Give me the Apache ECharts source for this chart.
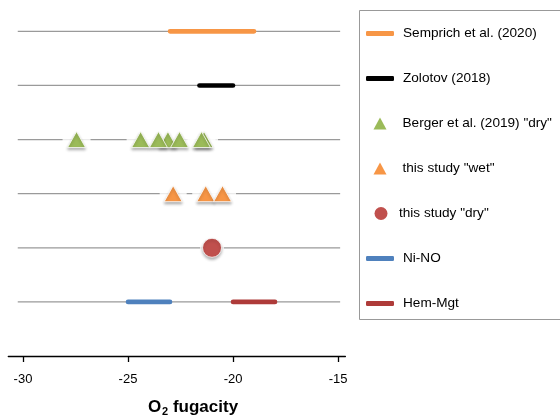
<!DOCTYPE html>
<html>
<head>
<meta charset="utf-8">
<script src="https://cdn.jsdelivr.net/npm/echarts@6/dist/echarts.min.js"></script>
<style>
  html, body { margin: 0; padding: 0; background: #fff; }
  #chart { width: 560px; height: 419px; }
</style>
</head>
<body>
<div id="chart"></div>
<script>
// O2 fugacity estimates by source; each source sits on its own row (6 = top row).
const xTicks = [-30, -25, -20, -15];
const guideSpan = [-30.25, -14.9];       // extent of the grey row guides
const rowLevels = [6, 5, 4, 3, 2, 1];

const sempRange = [-23, -19];            // Semprich et al. (2020)
const zolotovRange = [-21.6, -20];       // Zolotov (2018)
const bergerDry = [-23.1, -21.38, -27.45, -24.4, -23.55, -22.55, -21.5]; // Berger et al. (2019) "dry"
const studyWet = [-22.85, -21.3, -20.5]; // this study "wet"
const studyDry = [-21.0];                // this study "dry"
const niNoRange = [-25, -23];            // Ni-NO buffer
const hemMgtRange = [-20, -18];          // Hem-Mgt buffer

const names = ['Semprich et al. (2020)', 'Zolotov (2018)', 'Berger et al. (2019) "dry"',
  'this study "wet"', 'this study "dry"', 'Ni-NO', 'Hem-Mgt'];

const FONT = 'Liberation Sans';
const colors = {
  semp: '#F79646', zol: '#000000', berger: '#9BBB59', wet: '#F79646',
  dry: '#C0504D', nino: '#4F81BD', hem: '#AE3B39'
};

const pts = (vals, row) => vals.map(v => [v, row]);

const series = [];

// grey guide line for every row
rowLevels.forEach(r => {
  series.push({
    type: 'line', silent: true, symbol: 'none', z: 1,
    data: [[guideSpan[0], r], [guideSpan[1], r]],
    lineStyle: { color: '#9a9a9a', width: 1.2 }
  });
});

// white gaps punched into the guides behind the markers
function knockout(vals, row, w) {
  series.push({
    type: 'scatter', silent: true, z: 2, symbol: 'rect', symbolSize: [w, 5],
    data: pts(vals, row), itemStyle: { color: '#ffffff' }
  });
}
knockout(bergerDry, 4, 28);
knockout(studyWet, 3, 27);
knockout(studyDry, 2, 24);

function rangeBar(name, range, row, color) {
  series.push({
    name, type: 'line', symbol: 'none', z: 3,
    data: pts(range, row),
    itemStyle: { color },
    lineStyle: { color, width: 4.6, cap: 'round' }
  });
}

const markerShadow = { shadowColor: 'rgba(0,0,0,0.3)', shadowBlur: 3, shadowOffsetY: 2 };

function markers(name, vals, row, color, symbol, size) {
  series.push({
    name, type: 'scatter', z: 4, symbol, symbolSize: size,
    data: pts(vals, row),
    itemStyle: Object.assign({ color, borderColor: '#ffffff', borderWidth: 0.8, opacity: 1 }, markerShadow)
  });
}

rangeBar(names[0], sempRange, 6, colors.semp);
rangeBar(names[1], zolotovRange, 5, colors.zol);
markers(names[2], bergerDry, 4, colors.berger, 'triangle', [18, 16]);
markers(names[3], studyWet, 3, colors.wet, 'triangle', [18, 16]);
markers(names[4], studyDry, 2, colors.dry, 'circle', 19);
rangeBar(names[5], niNoRange, 1, colors.nino);
rangeBar(names[6], hemMgtRange, 1, colors.hem);

// one legend block per entry, stacked down the right-hand box
const legendStyle = [
  { icon: 'roundRect', left: 366, w: 28, h: 5, pad: 4 },
  { icon: 'roundRect', left: 366, w: 28, h: 5, pad: 4 },
  { icon: 'triangle', left: 373.5, w: 13, h: 12, pad: 11 },
  { icon: 'triangle', left: 373.5, w: 13, h: 12, pad: 11 },
  { icon: 'circle', left: 374.5, w: 13, h: 13, pad: 6.5 },
  { icon: 'roundRect', left: 366, w: 28, h: 5, pad: 4 },
  { icon: 'roundRect', left: 366, w: 28, h: 5, pad: 4 }
];
const LINE_H = 16;
const legends = names.map((n, i) => {
  const s = legendStyle[i];
  const cy = 33.5 + 45 * i;
  return {
    data: [{ name: n, icon: s.icon, itemStyle: { borderWidth: 0, shadowBlur: 0, shadowOffsetY: 0 } }],
    left: s.left, top: cy - LINE_H / 2, padding: 0,
    itemWidth: s.w, itemHeight: s.h,
    selectedMode: false,
    textStyle: { fontFamily: FONT, fontSize: 13.6, lineHeight: LINE_H, color: '#000', padding: [0, 0, 0, s.pad] }
  };
});

const chart = echarts.init(document.getElementById('chart'), null, { renderer: 'canvas' });
chart.setOption({
  animation: false,
  backgroundColor: '#ffffff',
  grid: { left: 8.3, right: 214.6, top: 4.3, bottom: 63 },
  xAxis: {
    type: 'value', min: -30.7, max: -14.65,
    splitLine: { show: false },
    axisLine: { show: true, lineStyle: { color: '#000', width: 1.3 } },
    axisTick: { show: true, length: 6, inside: false, customValues: xTicks, lineStyle: { color: '#000', width: 1.3 } },
    axisLabel: { customValues: xTicks, margin: 17, fontFamily: FONT, fontSize: 13, color: '#000' }
  },
  yAxis: { type: 'value', min: 0, max: 6.5, show: false },
  legend: legends,
  series,
  graphic: [
    {
      type: 'rect', silent: true, z: 0,
      shape: { x: 359.5, y: 10.5, width: 210, height: 309 },
      style: { fill: 'none', stroke: '#999999', lineWidth: 1 }
    },
    {
      type: 'text', silent: true,
      x: 193, y: 407,
      style: {
        text: '{b|O}{s|2}{b| fugacity}',
        align: 'center', verticalAlign: 'middle',
        rich: {
          b: { fontFamily: FONT, fontWeight: 'bold', fontSize: 17, fill: '#000' },
          s: { fontFamily: FONT, fontWeight: 'bold', fontSize: 11, fill: '#000', padding: [9, 0, 0, 1] }
        }
      }
    }
  ]
});
</script>
</body>
</html>
